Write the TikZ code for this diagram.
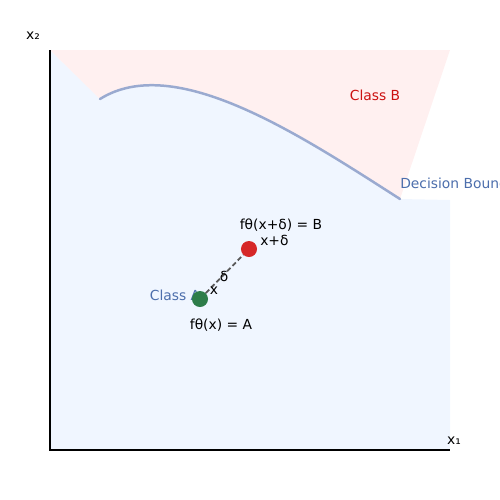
\documentclass[tikz,border=0pt]{standalone}
\usepackage{fontspec}
\setmainfont{DejaVu Sans}
\usepackage{tikz}
\usetikzlibrary{positioning, arrows.meta, calc}

\definecolor{regA}{HTML}{F0F6FF}
\definecolor{regB}{HTML}{FFF0F0}
\definecolor{bound}{HTML}{9AAAD0}
\definecolor{labA}{HTML}{4C6EAC}
\definecolor{labB}{HTML}{CC1111}
\definecolor{ptA}{HTML}{2E7D4A}
\definecolor{ptB}{HTML}{D62728}

\begin{document}
\begin{tikzpicture}[
  x=0.01in, y=-0.01in,
  lbl/.style={font=\fontsize{10}{12}\selectfont, inner sep=0pt},
  dot/.style={circle, inner sep=0pt, minimum size=0.16in},
  axis/.style={line width=1pt, black},
]
  \useasboundingbox (0,0) rectangle (500,500);
  \clip (0,0) rectangle (500,500);

  % regions
  \fill[regA] (50,50) -- (100,99) .. controls (175,52) and (300,135) .. (400,199)
    -- (450,200) -- (450,450) -- (50,450) -- cycle;
  \fill[regB] (50,50) -- (450,50) -- (400,199) .. controls (300,135) and (175,52) .. (100,99)
    -- cycle;

  % decision boundary
  \draw[bound, line width=1.8pt, line cap=round] (100,99) .. controls (175,52) and (300,135) .. (400,199);

  % axes
  \coordinate (top) at (50,50);
  \coordinate (orig) at (50,450);
  \coordinate (right) at (450,450);
  \draw[axis] (top) -- (orig) -- (right);
  \node[lbl] (xtwo) at (33,36) {x₂};
  \node[lbl] (xone) at (454,441) {x₁};

  \node[lbl, text=labB] (clsB) at (375,95) {Class B};
  \node[lbl, text=labA, anchor=west] (bnd) at (400,185) {Decision Boundary};
  \node[lbl, text=labA] (clsA) at (175,295) {Class A};

  % points
  \node[dot, fill=ptA] (x) at (200,299) {};
  \node[dot, fill=ptB] (xd) at (249,249) {};
  \draw[gray!70!black, line width=1.3pt, dash pattern=on 3.5pt off 2pt] (x) -- (xd);

  \node[lbl] (xl) at (214,291) {x};
  \node[lbl] (dl) at (224,276) {δ};
  \node[lbl, anchor=west] (xdl) at (260,240) {x+δ};
  \node[lbl] (fB) at (281,225) {fθ(x+δ) = B};
  \node[lbl] (fA) at (221,325) {fθ(x) = A};
\end{tikzpicture}
\end{document}
